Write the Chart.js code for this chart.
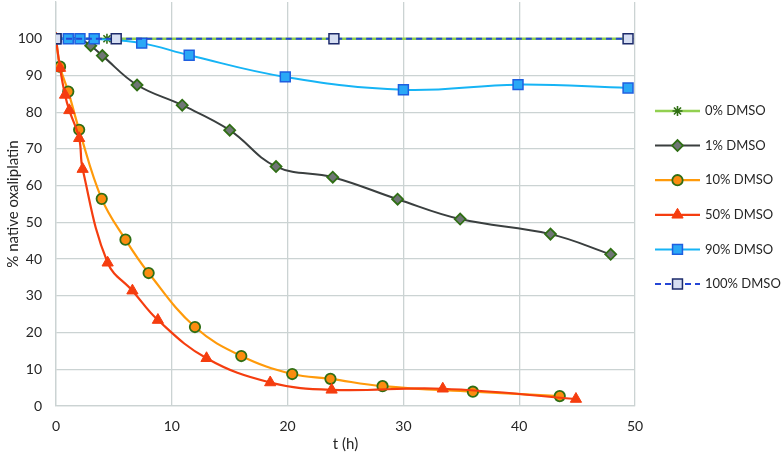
<!DOCTYPE html>
<html>
<head>
<meta charset="utf-8">
<script src="https://cdn.jsdelivr.net/npm/chart.js@4.4.1/dist/chart.umd.min.js"></script>
<style>
html, body { margin: 0; padding: 0; background: #fff; }
#wrap { width: 783px; height: 457px; }
</style>
</head>
<body>
<div id="wrap"><canvas id="chart"></canvas></div>
<script>
// series labels (legend order)
var seriesNames = ["0% DMSO", "1% DMSO", "10% DMSO", "50% DMSO", "90% DMSO", "100% DMSO"];

// time points (h) and % native oxaliplatin
var tDmso0 = [0, 4.4, 24, 49.4];
var vDmso0 = [100, 100, 100, 100];

var tDmso1 = [0, 1, 2, 3, 4, 7, 10.9, 15, 19, 23.9, 29.5, 34.9, 42.7, 47.9];
var vDmso1 = [100, 100, 100, 98.1, 95.4, 87.4, 81.9, 75.1, 65.2, 62.3, 56.3, 50.9, 46.8, 41.3];

var tDmso10 = [0, 0.35, 1.06, 2, 3.95, 6, 8, 12, 16, 20.4, 23.7, 28.2, 36, 43.5];
var vDmso10 = [100, 92.4, 85.6, 75.2, 56.4, 45.3, 36.2, 21.5, 13.6, 8.7, 7.4, 5.4, 3.9, 2.7];

var tDmso50 = [0, 0.35, 0.78, 1.15, 2, 2.3, 4.46, 6.6, 8.8, 13, 18.5, 23.8, 33.4, 44.9];
var vDmso50 = [100, 92, 84.7, 80.5, 72.9, 64.5, 39, 31.4, 23.4, 13, 6.4, 4.4, 4.7, 1.9];

var tDmso90 = [0, 1.06, 2.07, 3.3, 7.4, 11.5, 19.8, 30, 39.9, 49.4];
var vDmso90 = [100, 100, 100, 100, 98.8, 95.5, 89.6, 86.1, 87.5, 86.6];

var tDmso100 = [0, 5.2, 24, 49.4];
var vDmso100 = [100, 100, 100, 100];

var xTicks = [0, 10, 20, 30, 40, 50];
var yTicks = [0, 10, 20, 30, 40, 50, 60, 70, 80, 90, 100];

function pts(t, v) {
  var out = [];
  for (var i = 0; i < t.length; i++) out.push({ x: t[i], y: v[i] });
  return out;
}

var FONT = "Lato, 'Open Sans', sans-serif";

// later series are listed first so they are drawn on top (like the original)
var datasets = [
  { label: seriesNames[5], data: pts(tDmso100, vDmso100), borderColor: "#2546d6", borderWidth: 2, borderDash: [6, 4],
    pointStyle: "rect", pointRadius: 7, pointBackgroundColor: "#d6def2", pointBorderColor: "#1d2b6b", pointBorderWidth: 1.5 },
  { label: seriesNames[4], data: pts(tDmso90, vDmso90), borderColor: "#16b4f5", borderWidth: 2,
    pointStyle: "rect", pointRadius: 7, pointBackgroundColor: "#2aa8f6", pointBorderColor: "#1f5fe0", pointBorderWidth: 1.5 },
  { label: seriesNames[3], data: pts(tDmso50, vDmso50), borderColor: "#f53d0f", borderWidth: 2.2,
    pointStyle: "triangle", pointRadius: 6.5, pointBackgroundColor: "#f53d0f", pointBorderColor: "#f53d0f", pointBorderWidth: 1 },
  { label: seriesNames[2], data: pts(tDmso10, vDmso10), borderColor: "#ff9a0a", borderWidth: 2.2,
    pointStyle: "circle", pointRadius: 5.2, pointBackgroundColor: "#fb8c10", pointBorderColor: "#2f6e14", pointBorderWidth: 1.8 },
  { label: seriesNames[1], data: pts(tDmso1, vDmso1), borderColor: "#3a3f3f", borderWidth: 2,
    pointStyle: "rectRot", pointRadius: 5.5, pointBackgroundColor: "#6f7575", pointBorderColor: "#2f6e14", pointBorderWidth: 1.8 },
  { label: seriesNames[0], data: pts(tDmso0, vDmso0), borderColor: "#92d050", borderWidth: 2.5,
    pointStyle: "star", pointRadius: 5, pointBackgroundColor: "#2f6e14", pointBorderColor: "#2f6e14", pointBorderWidth: 1.6 }
];
// 1% DMSO: no markers on the hidden first points
datasets[4].pointRadius = tDmso1.map(function (t) { return t < 2.5 ? 0 : 5.5; });

// hand-made legend: line sample with marker in the middle, text on the right
var sideLegend = {
  id: "sideLegend",
  afterDraw: function (chart) {
    var ctx = chart.ctx;
    for (var i = 0; i < seriesNames.length; i++) {
      var ds = chart.data.datasets.filter(function (d) { return d.label === seriesNames[i]; })[0];
      var y = 111 + 34.6 * i;
      ctx.save();
      ctx.strokeStyle = ds.borderColor;
      ctx.lineWidth = ds.borderWidth;
      ctx.setLineDash(ds.borderDash || []);
      ctx.beginPath();
      ctx.moveTo(655, y);
      ctx.lineTo(700, y);
      ctx.stroke();
      ctx.setLineDash([]);
      ctx.fillStyle = ds.pointBackgroundColor;
      ctx.strokeStyle = ds.pointBorderColor;
      ctx.lineWidth = ds.pointBorderWidth;
      var r = Array.isArray(ds.pointRadius) ? 5.5 : ds.pointRadius;
      Chart.helpers.drawPoint(ctx, { pointStyle: ds.pointStyle, radius: r, rotation: 0, borderWidth: ds.pointBorderWidth }, 677.5, y);
      ctx.fillStyle = "#262626";
      ctx.font = "13px " + FONT;
      ctx.textBaseline = "middle";
      ctx.textAlign = "left";
      ctx.fillText(seriesNames[i], 705, y);
      ctx.restore();
    }
  }
};

var gridColor = "#cbd3d3";

new Chart(document.getElementById("chart"), {
  type: "line",
  data: { datasets: datasets },
  options: {
    responsive: true,
    maintainAspectRatio: false,
    animation: false,
    events: [],
    layout: { autoPadding: false, padding: { top: 2, right: 148, left: 0, bottom: 0 } },
    elements: { line: { tension: 0.4, fill: false } },
    plugins: {
      legend: { display: false },
      tooltip: { enabled: false }
    },
    scales: {
      x: {
        type: "linear",
        min: 0, max: 50,
        afterBuildTicks: function (s) { s.ticks = xTicks.map(function (v) { return { value: v }; }); },
        afterFit: function (s) { s.height = 51; },
        grid: { color: gridColor, lineWidth: 1.3, drawTicks: false },
        border: { color: gridColor, width: 1.3 },
        ticks: { color: "#262626", font: { family: FONT, size: 14 }, padding: 12 },
        title: { display: true, text: "t (h)", color: "#262626", font: { family: FONT, size: 15 }, padding: { top: 0, bottom: 4 } }
      },
      y: {
        type: "linear",
        min: 0, max: 110,
        afterBuildTicks: function (s) { s.ticks = yTicks.map(function (v) { return { value: v }; }); },
        afterFit: function (s) { s.width = 56; s.paddingTop = 0; s.paddingBottom = 0; },
        grid: { color: gridColor, lineWidth: 1.3, drawTicks: false },
        border: { color: gridColor, width: 1.3 },
        ticks: { color: "#262626", font: { family: FONT, size: 14 }, padding: 14 },
        title: { display: true, text: "% native oxaliplatin", color: "#262626", font: { family: FONT, size: 15 }, padding: { top: 4, bottom: 0 } }
      }
    }
  },
  plugins: [sideLegend]
});
</script>
</body>
</html>
